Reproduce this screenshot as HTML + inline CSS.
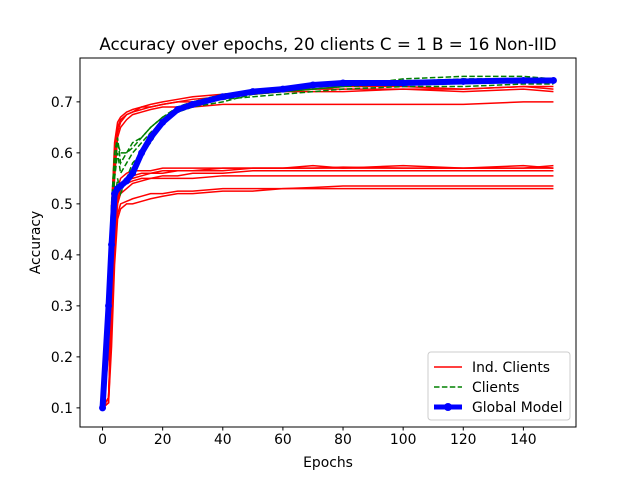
<!DOCTYPE html>
<html><head><meta charset="utf-8"><style>
body{margin:0;background:#fff;}
svg text{font-family:"DejaVu Sans","Liberation Sans",sans-serif;}
</style></head><body>
<svg id="chart" width="640" height="480" xmlns="http://www.w3.org/2000/svg"></svg>
<script>
const epochs=[0,2,3,4,5,6,8,10,13,16,20,25,30,40,50,60,70,80,100,120,140,150];
const redSeries=[
[0.1,0.3,0.5,0.6,0.65,0.665,0.675,0.68,0.685,0.69,0.695,0.7,0.7,0.71,0.715,0.72,0.72,0.72,0.725,0.72,0.725,0.72],
[0.1,0.28,0.48,0.62,0.66,0.67,0.68,0.685,0.69,0.69,0.695,0.7,0.705,0.71,0.715,0.72,0.725,0.725,0.725,0.725,0.73,0.73],
[0.1,0.25,0.45,0.58,0.64,0.66,0.675,0.68,0.69,0.695,0.7,0.705,0.71,0.715,0.72,0.725,0.725,0.73,0.73,0.725,0.73,0.725],
[0.1,0.2,0.4,0.55,0.63,0.65,0.665,0.675,0.68,0.685,0.69,0.69,0.69,0.695,0.695,0.695,0.695,0.695,0.695,0.695,0.7,0.7],
[0.1,0.12,0.25,0.42,0.5,0.53,0.545,0.55,0.555,0.56,0.56,0.565,0.565,0.565,0.57,0.57,0.57,0.57,0.57,0.57,0.57,0.575],
[0.1,0.12,0.28,0.45,0.52,0.54,0.55,0.555,0.56,0.56,0.565,0.565,0.565,0.57,0.57,0.57,0.57,0.572,0.57,0.57,0.57,0.57],
[0.1,0.12,0.3,0.44,0.51,0.53,0.54,0.545,0.55,0.55,0.555,0.555,0.56,0.56,0.565,0.565,0.565,0.565,0.565,0.565,0.565,0.565],
[0.1,0.11,0.27,0.42,0.5,0.52,0.53,0.54,0.545,0.55,0.55,0.55,0.55,0.555,0.555,0.555,0.555,0.555,0.555,0.555,0.555,0.555],
[0.1,0.11,0.25,0.4,0.48,0.5,0.505,0.51,0.515,0.52,0.52,0.525,0.525,0.53,0.53,0.53,0.532,0.535,0.535,0.535,0.535,0.535],
[0.1,0.11,0.22,0.38,0.47,0.49,0.5,0.5,0.505,0.51,0.515,0.52,0.52,0.525,0.525,0.53,0.53,0.53,0.53,0.53,0.53,0.53],
[0.1,0.12,0.3,0.45,0.53,0.55,0.56,0.565,0.565,0.565,0.57,0.57,0.57,0.57,0.57,0.57,0.575,0.57,0.575,0.57,0.575,0.57]
];
const greenSeries=[
[0.1,0.3,0.45,0.55,0.6,0.56,0.58,0.6,0.62,0.64,0.66,0.68,0.69,0.7,0.715,0.72,0.725,0.73,0.745,0.75,0.75,0.745],
[0.1,0.32,0.5,0.6,0.63,0.58,0.6,0.62,0.63,0.65,0.67,0.685,0.7,0.715,0.72,0.72,0.73,0.735,0.74,0.745,0.745,0.745],
[0.1,0.28,0.42,0.5,0.55,0.52,0.55,0.58,0.6,0.62,0.66,0.69,0.7,0.705,0.71,0.715,0.72,0.725,0.73,0.73,0.735,0.735],
[0.1,0.3,0.48,0.57,0.62,0.6,0.6,0.61,0.63,0.65,0.67,0.69,0.7,0.71,0.715,0.72,0.725,0.73,0.735,0.74,0.74,0.74]
];
const globalSeries=[0.1,0.3,0.42,0.52,0.53,0.535,0.545,0.56,0.6,0.63,0.66,0.685,0.695,0.71,0.72,0.725,0.733,0.737,0.737,0.74,0.742,0.742];
const xTicks=[0,20,40,60,80,100,120,140];
const yTicks=[0.1,0.2,0.3,0.4,0.5,0.6,0.7];

const L=80,R=576,T=58,B=427,xmin=-7.5,xmax=157.5,ymin=0.0625,ymax=0.786;
const sx=v=>L+(v-xmin)/(xmax-xmin)*(R-L);
const sy=v=>B-(v-ymin)/(ymax-ymin)*(B-T);
const svg=document.getElementById('chart');
const NS='http://www.w3.org/2000/svg';
function mk(tag,attrs,parent){const e=document.createElementNS(NS,tag);for(const k in attrs)e.setAttribute(k,attrs[k]);(parent||svg).appendChild(e);return e;}
function pts(arr){return arr.map((v,i)=>sx(epochs[i])+','+sy(v)).join(' ');}

const plot=mk('g',{});


redSeries.forEach((s,i)=>{const p=mk('polyline',{points:pts(s),fill:'none',stroke:'#ff0000','stroke-width':1.5},plot);

});
greenSeries.forEach((s,i)=>{const p=mk('polyline',{points:pts(s),fill:'none',stroke:'#008000','stroke-width':1.5,'stroke-dasharray':'5.5,2.4'},plot);

});
const gl=mk('polyline',{points:pts(globalSeries),fill:'none',stroke:'#0000ff','stroke-width':6,'stroke-linejoin':'round','stroke-linecap':'round'},plot);


globalSeries.forEach((v,i)=>{const c=mk('circle',{cx:sx(epochs[i]),cy:sy(v),r:3.5,fill:'#0000ff'},plot);

});

const frame=mk('rect',{x:L,y:T,width:R-L,height:B-T,fill:'none',stroke:'#000','stroke-width':1});


xTicks.forEach(t=>{const x=sx(t);mk('line',{x1:x,x2:x,y1:B,y2:B+3.5,stroke:'#000'});
const tx=mk('text',{x:x,y:B+17,'text-anchor':'middle','font-size':'13.9px'});tx.textContent=t;

});
yTicks.forEach(t=>{const y=sy(t);mk('line',{x1:L-3.5,x2:L,y1:y,y2:y,stroke:'#000'});
const tx=mk('text',{x:L-7,y:y+5,'text-anchor':'end','font-size':'13.9px'});tx.textContent=t.toFixed(1);

});
const xt=mk('text',{x:(L+R)/2,y:467,'text-anchor':'middle','font-size':'13.9px'});xt.textContent='Epochs';


const yt=mk('text',{x:40,y:(T+B)/2,'text-anchor':'middle','font-size':'13.9px',transform:'rotate(-90 40 '+((T+B)/2)+')'});yt.textContent='Accuracy';


const ti=mk('text',{x:(L+R)/2,y:50,'text-anchor':'middle','font-size':'16.7px'});ti.textContent='Accuracy over epochs, 20 clients C = 1 B = 16 Non-IID';



const lg=mk('g',{});


mk('rect',{x:428,y:352,width:142,height:68,rx:3,fill:'#fff','fill-opacity':0.8,stroke:'#ccc'},lg);
const items=[['Ind. Clients','#ff0000',1.5,'',false],['Clients','#008000',1.5,'5.5,2.4',false],['Global Model','#0000ff',5,'',true]];
items.forEach((it,i)=>{const y=367+i*20;
const g=mk('g',{},lg);


const a={x1:434,x2:462,y1:y,y2:y,stroke:it[1],'stroke-width':it[2]};if(it[3])a['stroke-dasharray']=it[3];mk('line',a,g);
if(it[4])mk('circle',{cx:448,cy:y,r:4,fill:it[1]},g);
const t=mk('text',{x:472,y:y+5,'font-size':'13.9px'},g);t.textContent=it[0];});
</script>
</body></html>
